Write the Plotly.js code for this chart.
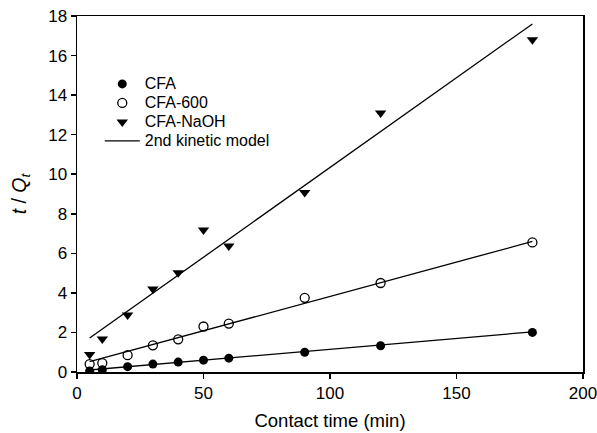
<!DOCTYPE html>
<html>
<head>
<meta charset="utf-8">
<script src="https://cdn.plot.ly/plotly-3.0.1.min.js"></script>
<style>html,body{margin:0;padding:0;background:#fff}#chart{width:597px;height:433px}</style>
</head>
<body>
<div id="chart"></div>
<script>
const time = [5, 10, 20, 30, 40, 50, 60, 90, 120, 180];
const cfa = [0.05, 0.12, 0.27, 0.40, 0.50, 0.60, 0.70, 1.00, 1.33, 2.00];
const cfa600 = [0.40, 0.45, 0.85, 1.35, 1.65, 2.30, 2.45, 3.75, 4.50, 6.55];
const cfaNaOH = [0.88, 1.67, 2.88, 4.20, 5.02, 7.18, 6.37, 9.07, 13.10, 16.80];
const modelTime = [5, 180];
const modelCFA = [0.10, 2.03];
const model600 = [0.52, 6.60];
const modelNaOH = [1.72, 17.60];
const seriesNames = ['CFA', 'CFA-600', 'CFA-NaOH', '2nd kinetic model'];

const lg = s => '<span style="font-size:16px">' + s + '</span>';
const lineStyle = {color: '#000', width: 1.3};
const traces = [
  {x: time, y: cfa, name: lg(seriesNames[0]), mode: 'markers', type: 'scatter',
   marker: {symbol: 'circle', size: 9, color: '#000'}},
  {x: time, y: cfa600, name: lg(seriesNames[1]), mode: 'markers', type: 'scatter',
   marker: {symbol: 'circle-open', size: 9, color: '#000', line: {width: 1.3, color: '#000'}}},
  {x: time, y: cfaNaOH, name: lg(seriesNames[2]), mode: 'markers', type: 'scatter',
   marker: {symbol: 'triangle-down', size: 10, color: '#000'}},
  {x: modelTime, y: modelNaOH, name: lg(seriesNames[3]), mode: 'lines', type: 'scatter', line: lineStyle},
  {x: modelTime, y: model600, name: 'm600', mode: 'lines', type: 'scatter', line: lineStyle, showlegend: false},
  {x: modelTime, y: modelCFA, name: 'mCFA', mode: 'lines', type: 'scatter', line: lineStyle, showlegend: false}
];

const FONT = 'Liberation Sans, Arial, sans-serif';
const axisCommon = {
  showgrid: false, zeroline: false, showline: true, linecolor: '#000', linewidth: 1.5,
  ticks: 'outside', ticklen: 5, tickwidth: 1.5, tickcolor: '#000', mirror: true,
  ticklabeloverflow: 'allow',
  tickfont: {family: FONT, size: 17, color: '#000'}
};

const layout = {
  width: 597, height: 433,
  margin: {l: 77, r: 14, t: 16, b: 61},
  paper_bgcolor: '#fff', plot_bgcolor: '#fff',
  showlegend: true,
  legend: {x: 0.045, y: 0.85, xanchor: 'left', yanchor: 'top', bgcolor: 'rgba(0,0,0,0)',
           font: {family: FONT, size: 12, color: '#000'},
           tracegroupgap: 0, itemwidth: 35},
  xaxis: Object.assign({}, axisCommon, {range: [0, 200], dtick: 50,
    title: {text: 'Contact time (min)', standoff: 12,
            font: {family: FONT, size: 18.5, color: '#000'}}}),
  yaxis: Object.assign({}, axisCommon, {range: [0, 18], dtick: 2,
    title: {text: '<i>t</i> / <i>Q</i><sub><i>t</i></sub>', standoff: 16,
            font: {family: FONT, size: 19.5, color: '#000'}}})
};

Plotly.newPlot('chart', traces, layout, {staticPlot: true});
</script>
</body>
</html>
